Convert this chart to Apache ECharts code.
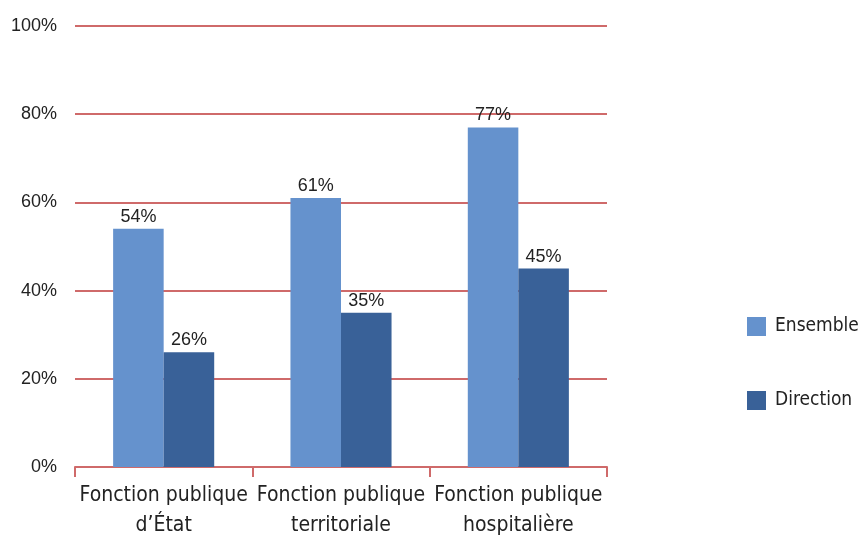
<!DOCTYPE html>
<html>
<head>
<meta charset="utf-8">
<script src="https://cdn.jsdelivr.net/npm/echarts@6/dist/echarts.min.js"></script>
<style>
  html, body { margin: 0; padding: 0; background: #fff; }
  #chart { width: 862px; height: 540px; }
</style>
</head>
<body>
<div id="chart"></div>
<script>
const categories = ['Fonction publique\nd\u2019\u00c9tat', 'Fonction publique\nterritoriale', 'Fonction publique\nhospitali\u00e8re'];
const ensemble = [54, 61, 77];
const direction = [26, 35, 45];
const yTicks = [0, 20, 40, 60, 80, 100];

const redLine = '#cf6a6a';
const narrow = '"Liberation Sans Narrow", "DejaVu Sans Condensed", sans-serif';
const sans = '"Liberation Sans", Arial, sans-serif';

const chart = echarts.init(document.getElementById('chart'));

const barLabel = {
  show: true,
  position: 'top',
  distance: 3,
  formatter: '{c}%',
  color: '#222',
  fontFamily: sans,
  fontSize: 18
};

chart.setOption({
  animation: false,
  grid: { left: 75, right: 255, top: 26, bottom: 73, outerBoundsMode: 'none' },
  legend: {
    data: ['Ensemble', 'Direction'],
    orient: 'vertical',
    left: 747,
    top: 317,
    padding: 0,
    itemWidth: 19,
    itemHeight: 19,
    itemGap: 55,
    icon: 'rect',
    textStyle: { fontFamily: narrow, fontSize: 19, color: '#222', padding: [0, 0, 0, 4] }
  },
  xAxis: {
    type: 'category',
    data: categories,
    axisLine: { lineStyle: { color: redLine, width: 2 } },
    axisTick: { show: true, length: 10, lineStyle: { color: redLine, width: 2 } },
    axisLabel: {
      interval: 0,
      fontFamily: narrow,
      fontSize: 21,
      color: '#222',
      lineHeight: 30,
      margin: 14
    }
  },
  yAxis: {
    type: 'value',
    min: yTicks[0],
    max: yTicks[yTicks.length - 1],
    interval: 20,
    axisLine: { show: false },
    axisTick: { show: false },
    splitLine: { lineStyle: { color: redLine, width: 2 } },
    axisLabel: {
      formatter: '{value}%',
      fontFamily: sans,
      fontSize: 18,
      color: '#222',
      margin: 18
    }
  },
  series: [
    {
      name: 'Ensemble',
      type: 'bar',
      data: ensemble,
      barGap: '0%',
      barCategoryGap: '43%',
      itemStyle: { color: '#6592cd' },
      label: barLabel
    },
    {
      name: 'Direction',
      type: 'bar',
      data: direction,
      itemStyle: { color: '#396198' },
      label: barLabel
    }
  ]
});
</script>
</body>
</html>
